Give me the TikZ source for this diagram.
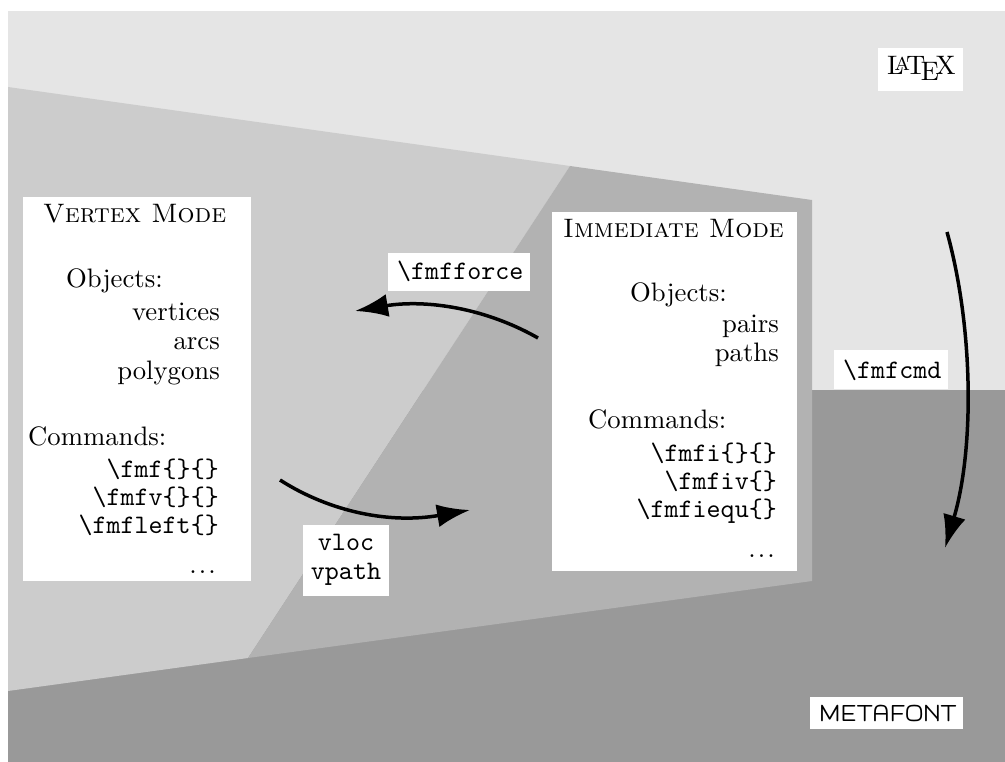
\documentclass[tikz,border=0pt]{standalone}
\usepackage{mflogo}
\usepackage{graphicx}
\usetikzlibrary{arrows.meta}
\definecolor{gLight}{gray}{0.9}
\definecolor{gVert}{gray}{0.8}
\definecolor{gImm}{gray}{0.7}
\definecolor{gDark}{gray}{0.6}
\newcommand{\SBx}[1]{\scalebox{2.67}{#1}}
\newcommand{\mydots}{.\kern0.8pt.\kern0.8pt.}
\begin{document}
\begin{tikzpicture}[x=1pt,y=-1pt,
  every node/.style={inner sep=0pt,font=\fontsize{10}{12}\selectfont},
  wbox/.style={fill=white,draw=none,anchor=north west},
  tl/.style={anchor=base west},
  tr/.style={anchor=base east},
  tc/.style={anchor=base},
  flow/.style={line width=3.5pt,-{Latex[length=33pt,width=23pt]}}]
\useasboundingbox (0,0) rectangle (1005,762);
% background regions
\fill[gLight] (8,11) rectangle (1005,390);
\fill[gDark] (8,390) rectangle (1005,762);
\fill[gVert] (8,87) -- (570,166) -- (248,658) -- (8,691) -- cycle;
\fill[gImm] (570,166) -- (812,200) -- (812,581) -- (248,658) -- cycle;
% white boxes
\node[wbox,minimum width=228pt,minimum height=384pt] (vbox) at (23,197) {};
\node[wbox,minimum width=245pt,minimum height=359pt] (ibox) at (552,212) {};
\node[wbox,minimum width=142pt,minimum height=38pt] (fbox) at (388,253) {};
\node[wbox,minimum width=86pt,minimum height=71pt] (lbox) at (303,525) {};
\node[wbox,minimum width=114pt,minimum height=39pt] (cbox) at (834,350) {};
\node[wbox,minimum width=85pt,minimum height=43pt] (xbox) at (878,48) {};
\node[wbox,minimum width=153pt,minimum height=32pt] (mbox) at (810,697) {};
% vertex mode text
\node[tl] (vt) at (43,223) {\SBx{\textsc{Vertex Mode}}};
\node[tl] (vo) at (66,288) {\SBx{Objects:}};
\node[tr] (v1) at (220,320) {\SBx{vertices}};
\node[tr] (v2) at (220,350) {\SBx{arcs}};
\node[tr] (v3) at (220,380) {\SBx{polygons}};
\node[tl] (vc) at (28,445) {\SBx{Commands:}};
\node[tr] (c1) at (219,477) {\SBx{\ttfamily\string\fmf\{\}\{\}}};
\node[tr] (c2) at (219,505) {\SBx{\ttfamily\string\fmfv\{\}\{\}}};
\node[tr] (c3) at (219,533) {\SBx{\ttfamily\string\fmfleft\{\}}};
\node[tr] (c4) at (216,573) {\SBx{\mydots}};
% immediate mode text
\node[tl] (it) at (563,238) {\SBx{\textsc{Immediate Mode}}};
\node[tl] (io) at (630,302) {\SBx{Objects:}};
\node[tr] (i1) at (779,333) {\SBx{pairs}};
\node[tr] (i2) at (779,362) {\SBx{paths}};
\node[tl] (ic) at (588,428) {\SBx{Commands:}};
\node[tr] (d1) at (777,461) {\SBx{\ttfamily\string\fmfi\{\}\{\}}};
\node[tr] (d2) at (777,489) {\SBx{\ttfamily\string\fmfiv\{\}}};
\node[tr] (d3) at (777,517) {\SBx{\ttfamily\string\fmfiequ\{\}}};
\node[tr] (d4) at (775,557) {\SBx{\mydots}};
% labels
\node[tl] (lf) at (397,280) {\SBx{\ttfamily\string\fmfforce}};
\node[tc] (lv1) at (346,550) {\SBx{\ttfamily vloc}};
\node[tc] (lv2) at (346,579) {\SBx{\ttfamily vpath}};
\node[tl] (lc) at (843,378) {\SBx{\ttfamily\string\fmfcmd}};
\node[tl] (lx) at (887,75) {\SBx{\LaTeX}};
\node[tl] (lm) at (819,721) {\SBx{\MF}};
% arrows
\coordinate (a1s) at (538,338);
\coordinate (a1e) at (355,311);
\coordinate (a2s) at (280,480);
\coordinate (a2e) at (470,510);
\coordinate (a3s) at (947,232);
\coordinate (a3e) at (945,548);
\draw[flow] (a1s) .. controls (480,305) and (420,300) .. (a1e);
\draw[flow] (a2s) .. controls (330,512) and (390,524) .. (a2e);
\draw[flow] (a3s) .. controls (974,330) and (974,450) .. (a3e);
\end{tikzpicture}
\end{document}
